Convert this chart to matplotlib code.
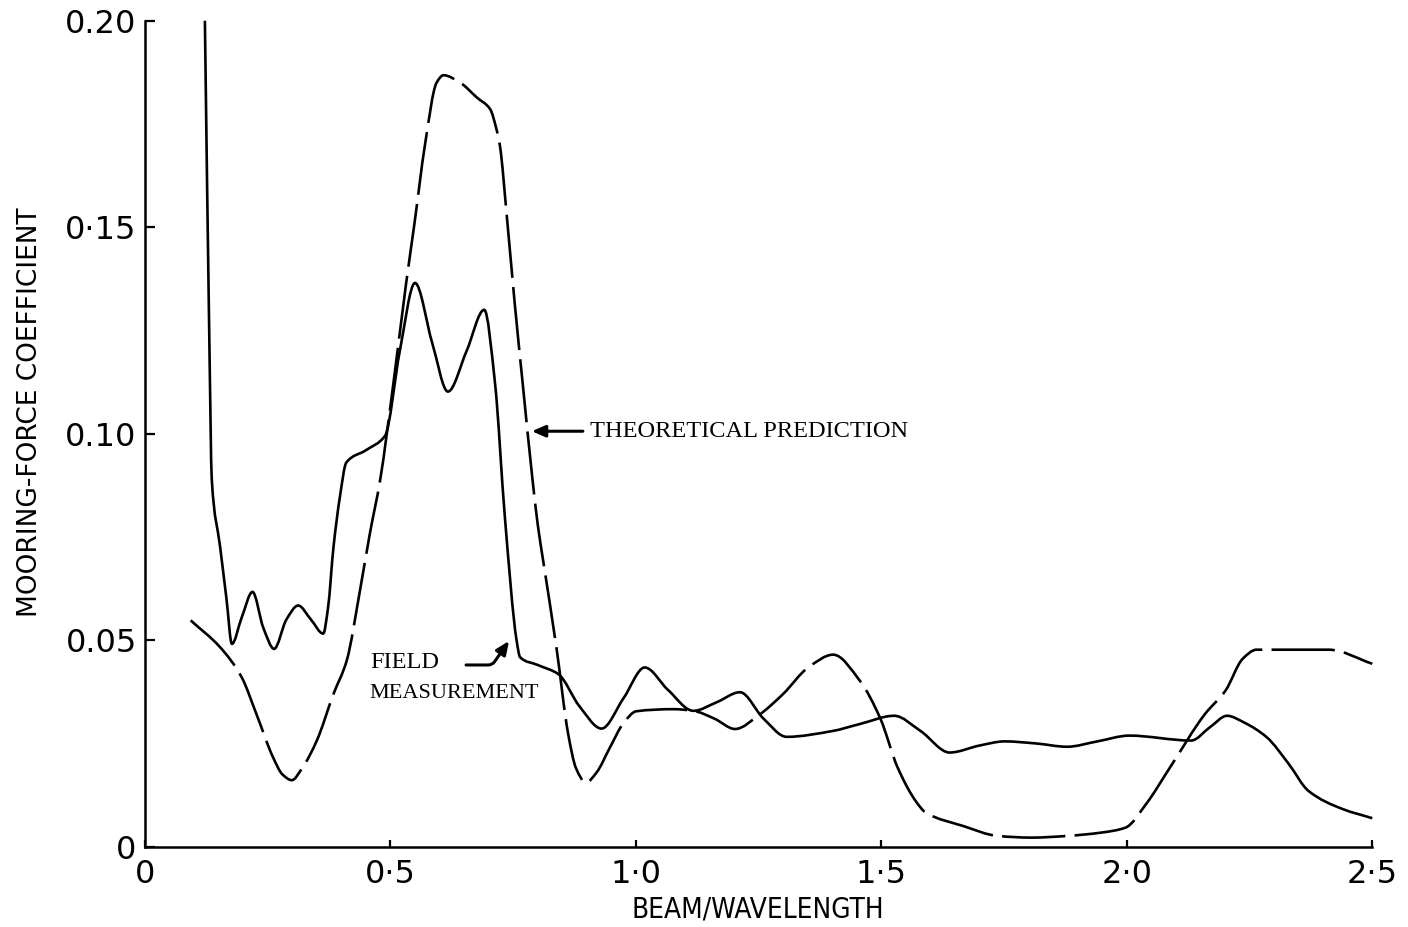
import matplotlib
matplotlib.use("Agg")
import numpy as np
import matplotlib.pyplot as plt
from matplotlib.path import Path
from matplotlib.patches import PathPatch

# Field measurement (solid)
field_x = [0.122, 0.131, 0.136, 0.153, 0.166, 0.177, 0.197, 0.219, 0.241, 0.263,
           0.288, 0.312, 0.338, 0.363, 0.373, 0.384, 0.397, 0.410, 0.450, 0.489,
           0.519, 0.550, 0.585, 0.617, 0.655, 0.691, 0.713, 0.733, 0.757, 0.764,
           0.800, 0.842, 0.885, 0.930, 0.975, 1.018, 1.065, 1.117, 1.165, 1.212,
           1.260, 1.307, 1.400, 1.456, 1.526, 1.580, 1.639, 1.700, 1.751, 1.815,
           1.878, 1.940, 2.005, 2.131, 2.170, 2.204, 2.240, 2.285, 2.330, 2.370,
           2.440, 2.500]
field_y = [0.200, 0.123, 0.089, 0.0726, 0.060, 0.0491, 0.0555, 0.0617, 0.053, 0.0479,
           0.055, 0.0584, 0.055, 0.0516, 0.058, 0.0726, 0.0847, 0.0930, 0.0960, 0.0995,
           0.120, 0.1365, 0.122, 0.1102, 0.120, 0.130, 0.1122, 0.0799, 0.0499, 0.0459,
           0.0440, 0.0418, 0.034, 0.0286, 0.036, 0.0434, 0.038, 0.0329, 0.035, 0.0374,
           0.031, 0.0266, 0.028, 0.0297, 0.0317, 0.028, 0.0228, 0.0245, 0.0255, 0.025,
           0.0242, 0.0255, 0.0269, 0.0257, 0.029, 0.0317, 0.030, 0.0265, 0.020, 0.0135,
           0.0091, 0.0069]

# Theoretical prediction (dashed)
theory_x = [0.093, 0.153, 0.197, 0.227, 0.261, 0.280, 0.299, 0.320, 0.350, 0.384,
            0.411, 0.438, 0.458, 0.479, 0.506, 0.532, 0.549, 0.570, 0.594, 0.608,
            0.642, 0.676, 0.703, 0.716, 0.723, 0.737, 0.753, 0.770, 0.788, 0.800,
            0.811, 0.838, 0.862, 0.878, 0.898, 0.920, 0.947, 0.975, 1.001, 1.076,
            1.117, 1.160, 1.202, 1.253, 1.300, 1.351, 1.402, 1.456, 1.498, 1.533,
            1.572, 1.590, 1.667, 1.737, 1.806, 1.878, 1.947, 1.997, 2.039, 2.088,
            2.159, 2.201, 2.236, 2.264, 2.411, 2.500]
theory_y = [0.0548, 0.0483, 0.0410, 0.0321, 0.0216, 0.0175, 0.0161, 0.019, 0.0257, 0.037,
            0.0451, 0.0621, 0.0758, 0.0888, 0.1122, 0.1365, 0.151, 0.1697, 0.185, 0.1868,
            0.185, 0.1814, 0.1786, 0.1737, 0.1697, 0.1527, 0.1317, 0.1114, 0.0904, 0.0780,
            0.0693, 0.0483, 0.0273, 0.019, 0.0155, 0.018, 0.024, 0.030, 0.0328, 0.0333,
            0.0329, 0.031, 0.0285, 0.0321, 0.037, 0.0434, 0.0465, 0.0402, 0.031, 0.0192,
            0.0107, 0.0083, 0.0050, 0.0026, 0.0022, 0.0026, 0.0034, 0.0046, 0.0103, 0.0192,
            0.0321, 0.0378, 0.0455, 0.0477, 0.0477, 0.0443]

x_ticks = [0, 0.5, 1.0, 1.5, 2.0, 2.5]
x_tick_labels = ["0", "0·5", "1·0", "1·5", "2·0", "2·5"]
y_ticks = [0, 0.05, 0.10, 0.15, 0.20]
y_tick_labels = ["0", "0.05", "0.10", "0·15", "0.20"]


def smooth_curve(xs, ys):
    """Monotone cubic (Fritsch-Carlson) curve through the points, as Bezier segments."""
    x = np.asarray(xs, float)
    y = np.asarray(ys, float)
    h = np.diff(x)
    d = np.diff(y) / h
    m = np.zeros_like(x)
    m[0], m[-1] = d[0], d[-1]
    for i in range(1, len(x) - 1):
        if d[i - 1] * d[i] <= 0:
            m[i] = 0.0
        else:
            w1 = 2 * h[i] + h[i - 1]
            w2 = h[i] + 2 * h[i - 1]
            m[i] = (w1 + w2) / (w1 / d[i - 1] + w2 / d[i])
    verts = [(x[0], y[0])]
    codes = [Path.MOVETO]
    for i in range(len(x) - 1):
        verts += [(x[i] + h[i] / 3, y[i] + m[i] * h[i] / 3),
                  (x[i + 1] - h[i] / 3, y[i + 1] - m[i + 1] * h[i] / 3),
                  (x[i + 1], y[i + 1])]
        codes += [Path.CURVE4] * 3
    return Path(verts, codes)


fig = plt.figure(figsize=(14.08, 9.27), dpi=100)
ax = fig.add_axes([145 / 1408, 1 - 846.7 / 927, (1372.3 - 145) / 1408, (846.7 - 20.7) / 927])

lw = 1.9
ax.add_patch(PathPatch(smooth_curve(field_x, field_y), fill=False, edgecolor="black",
                       lw=lw, joinstyle="round", capstyle="butt", clip_on=False,
                       label="Field measurement"))
ax.add_patch(PathPatch(smooth_curve(theory_x, theory_y), fill=False, edgecolor="black",
                       lw=lw, linestyle=(0, (24, 3.5)), joinstyle="round",
                       capstyle="butt", clip_on=False, label="Theoretical prediction"))

ax.set_xlim(0, 2.5)
ax.set_ylim(0, 0.20)
for side in ("top", "right"):
    ax.spines[side].set_visible(False)
for side in ("left", "bottom"):
    ax.spines[side].set_linewidth(1.8)

ax.set_xticks(x_ticks)
ax.set_xticklabels(x_tick_labels)
ax.set_yticks(y_ticks)
ax.set_yticklabels(y_tick_labels)
ax.tick_params(axis="y", direction="in", length=7.5, width=1.6, pad=6, labelsize=23)
ax.tick_params(axis="x", direction="in", length=5, width=1.6, pad=9, labelsize=23)

fig.text(30 / 1408, 1 - 412 / 927, "MOORING-FORCE COEFFICIENT", rotation=90,
         ha="center", va="center", family=["DejaVu Sans"], fontsize=19)
fig.text(758 / 1408, 1 - 910 / 927, "BEAM/WAVELENGTH", ha="center", va="center",
         family=["DejaVu Sans"], fontstretch="condensed", fontsize=20)

serif = ["Liberation Serif", "DejaVu Serif"]
arrow_style = "-|>,head_length=0.8,head_width=0.35"
ax.annotate("", xy=(0.788, 0.1006), xytext=(0.892, 0.1006),
            arrowprops=dict(arrowstyle=arrow_style, color="black", lw=2.2,
                            shrinkA=0, shrinkB=0))
ax.text(0.906, 0.1006, "THEORETICAL PREDICTION", ha="left", va="center",
        family=serif, fontsize=17.6)

ax.annotate("", xy=(0.7415, 0.0498), xytext=(0.654, 0.0440),
            arrowprops=dict(arrowstyle=arrow_style, color="black", lw=2.2,
                            shrinkA=0, shrinkB=0,
                            connectionstyle="angle,angleA=0,angleB=55,rad=4"))
ax.text(0.458, 0.0447, "FIELD", ha="left", va="center", family=serif, fontsize=17.6)
ax.text(0.458, 0.0370, "MEASUREMENT", ha="left", va="center", family=serif, fontsize=16)

fig.savefig("out.png", dpi=100)
